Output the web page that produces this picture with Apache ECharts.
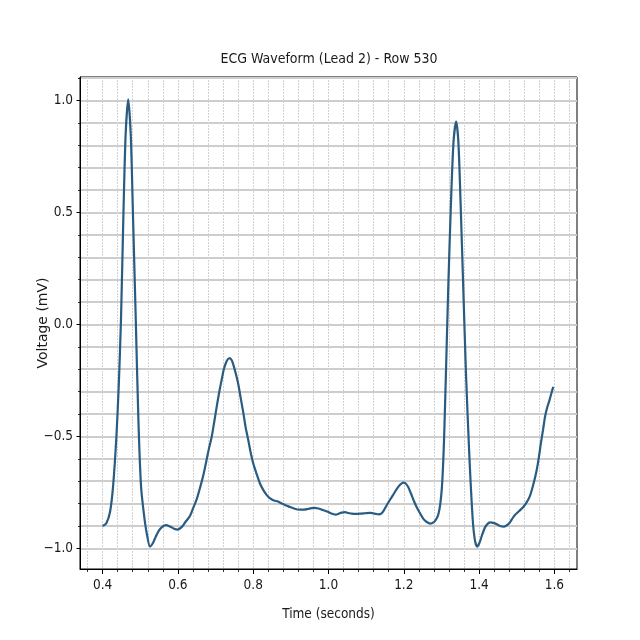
<!DOCTYPE html>
<html>
<head>
<meta charset="utf-8">
<script src="https://cdn.jsdelivr.net/npm/echarts@6/dist/echarts.min.js"></script>
<style>html,body{margin:0;padding:0;background:#fff}#c{width:640px;height:640px}</style>
</head>
<body>
<div id="c"></div>
<script>
// ---- data ----
const times = [
  0.400,0.410,0.420,0.428,0.437,0.443,0.449,0.455,0.461,0.468,0.475,0.481,0.488,0.495,0.502,0.510,0.517,0.526,0.534,0.540,
  0.550,0.560,0.568,0.580,0.590,0.599,0.610,0.620,0.632,0.641,0.650,0.659,0.668,0.676,0.683,0.690,0.697,0.703,0.710,0.716,
  0.722,0.728,0.733,0.738,0.743,0.747,0.753,0.760,0.767,0.774,0.780,0.787,0.793,0.800,0.810,0.818,0.827,0.836,0.845,0.855,
  0.866,0.876,0.887,0.898,0.910,0.924,0.935,0.945,0.955,0.964,0.973,0.982,0.991,1.000,1.010,1.020,1.027,1.035,1.044,1.053,
  1.062,1.073,1.084,1.097,1.110,1.118,1.126,1.133,1.140,1.147,1.155,1.163,1.172,1.181,1.190,1.198,1.205,1.212,1.219,1.226,
  1.234,1.243,1.252,1.261,1.270,1.279,1.286,1.292,1.297,1.301,1.304,1.307,1.312,1.318,1.325,1.332,1.339,1.345,1.351,1.358,
  1.365,1.374,1.383,1.389,1.395,1.401,1.408,1.416,1.424,1.430,1.438,1.447,1.456,1.465,1.473,1.480,1.487,1.494,1.502,1.509,
  1.518,1.527,1.534,1.540,1.547,1.553,1.559,1.564,1.570,1.575,1.581,1.587,1.592,1.597
];
const voltages = [
  -0.900,-0.888,-0.835,-0.720,-0.490,-0.270,0.030,0.470,0.840,1.005,0.840,0.470,0.030,-0.420,-0.720,-0.850,-0.930,-0.992,-0.975,-0.952,
  -0.920,-0.902,-0.896,-0.903,-0.912,-0.916,-0.905,-0.882,-0.855,-0.818,-0.780,-0.728,-0.670,-0.606,-0.550,-0.500,-0.430,-0.368,-0.300,-0.249,
  -0.200,-0.170,-0.155,-0.150,-0.160,-0.178,-0.215,-0.264,-0.330,-0.397,-0.460,-0.517,-0.570,-0.620,-0.672,-0.710,-0.740,-0.762,-0.777,-0.786,
  -0.791,-0.800,-0.808,-0.815,-0.823,-0.827,-0.827,-0.824,-0.820,-0.819,-0.822,-0.827,-0.832,-0.838,-0.845,-0.849,-0.845,-0.840,-0.838,-0.842,
  -0.845,-0.846,-0.845,-0.843,-0.841,-0.843,-0.846,-0.848,-0.845,-0.830,-0.806,-0.784,-0.760,-0.735,-0.716,-0.706,-0.710,-0.727,-0.755,-0.785,
  -0.815,-0.843,-0.868,-0.882,-0.889,-0.884,-0.870,-0.846,-0.800,-0.732,-0.640,-0.509,-0.212,0.160,0.532,0.814,0.906,0.814,0.532,0.160,
  -0.212,-0.583,-0.870,-0.965,-0.992,-0.975,-0.940,-0.905,-0.888,-0.884,-0.886,-0.892,-0.900,-0.903,-0.898,-0.888,-0.870,-0.853,-0.840,-0.829,
  -0.814,-0.792,-0.770,-0.739,-0.695,-0.650,-0.590,-0.531,-0.468,-0.413,-0.370,-0.338,-0.307,-0.279
];
const xMajorTicks = [0.4, 0.6, 0.8, 1.0, 1.2, 1.4, 1.6];
const xMinorTicks = [0.36,0.40,0.44,0.48,0.52,0.56,0.60,0.64,0.68,0.72,0.76,0.80,0.84,0.88,0.92,0.96,1.00,
                     1.04,1.08,1.12,1.16,1.20,1.24,1.28,1.32,1.36,1.40,1.44,1.48,1.52,1.56,1.60,1.64];
const yMajorTicks = [-1.0, -0.5, 0.0, 0.5, 1.0];
const yMinorTicks = [-1.0,-0.9,-0.8,-0.7,-0.6,-0.5,-0.4,-0.3,-0.2,-0.1,0.0,0.1,0.2,0.3,0.4,0.5,0.6,0.7,0.8,0.9,1.0,1.1];
const xRange = [0.34, 1.66];
const yRange = [-1.092, 1.105];
const titleText = 'ECG Waveform (Lead 2) - Row 530';
const xName = 'Time (seconds)';
const yName = 'Voltage (mV)';

// ---- chart ----
const NARROW = "'Liberation Sans Narrow','DejaVu Sans Condensed','Liberation Sans',sans-serif";
const TXT = '#1a1a1a';
const seriesData = times.map((t, i) => [t, voltages[i]]);
const fmt = v => v.toFixed(1).replace('-', '\u2212');

const chart = echarts.init(document.getElementById('c'), null, {renderer: 'canvas'});
const grid = {left: 80, top: 77, width: 497, height: 492, show: true, borderColor: '#000', borderWidth: 1, backgroundColor: '#fff', containLabel: false};

chart.setOption({
  animation: false,
  backgroundColor: '#fff',
  grid: grid,
  graphic: [{
    type: 'text', x: 329, y: 59,
    style: {text: titleText, align: 'center', verticalAlign: 'middle', font: '14px ' + NARROW, fill: TXT}
  }],
  xAxis: [
    {
      type: 'value', min: xRange[0], max: xRange[1], position: 'bottom',
      axisLine: {show: true, onZero: false, lineStyle: {color: '#000', width: 1}},
      axisTick: {show: true, customValues: xMajorTicks, length: 5, lineStyle: {color: '#000', width: 1}},
      axisLabel: {show: true, customValues: xMajorTicks, formatter: fmt, margin: 9, fontFamily: NARROW, fontSize: 13.5, color: TXT},
      splitLine: {show: false},
      name: xName, nameLocation: 'middle', nameGap: 38, nameMoveOverlap: false,
      nameTextStyle: {fontFamily: NARROW, fontSize: 13.5, color: TXT}
    },
    {
      type: 'value', min: xRange[0], max: xRange[1], position: 'bottom',
      axisLine: {show: false, onZero: false},
      axisTick: {show: true, customValues: xMinorTicks, length: 3, lineStyle: {color: '#000', width: 0.8}},
      axisLabel: {show: false},
      splitLine: {show: true, lineStyle: {color: '#d2d2d2', width: 1, type: [2, 1]}}
    }
  ],
  yAxis: [
    {
      type: 'value', min: yRange[0], max: yRange[1], position: 'left',
      axisLine: {show: true, onZero: false, lineStyle: {color: '#000', width: 1}},
      axisTick: {show: true, customValues: yMajorTicks, length: 3.5, lineStyle: {color: '#000', width: 1}},
      axisLabel: {show: true, customValues: yMajorTicks, formatter: fmt, margin: 7, fontFamily: NARROW, fontSize: 13.5, color: TXT},
      splitLine: {show: false},
      name: yName, nameLocation: 'middle', nameGap: 30, nameRotate: 90, nameMoveOverlap: false,
      nameTextStyle: {fontFamily: "'DejaVu Sans',sans-serif", fontSize: 14, color: TXT}
    },
    {
      type: 'value', min: yRange[0], max: yRange[1], position: 'left',
      axisLine: {show: false, onZero: false},
      axisTick: {show: true, customValues: yMinorTicks, length: 2, lineStyle: {color: '#000', width: 0.8}},
      axisLabel: {show: false},
      splitLine: {show: true, lineStyle: {color: '#cdcdcd', width: 2, type: 'solid'}}
    }
  ],
  series: [{
    type: 'line', xAxisIndex: 0, yAxisIndex: 0,
    data: seriesData,
    showSymbol: false, symbol: 'none',
    smooth: 0.25,
    lineStyle: {color: '#2a5b81', width: 2.2},
    z: 5
  }]
});
</script>
</body>
</html>
